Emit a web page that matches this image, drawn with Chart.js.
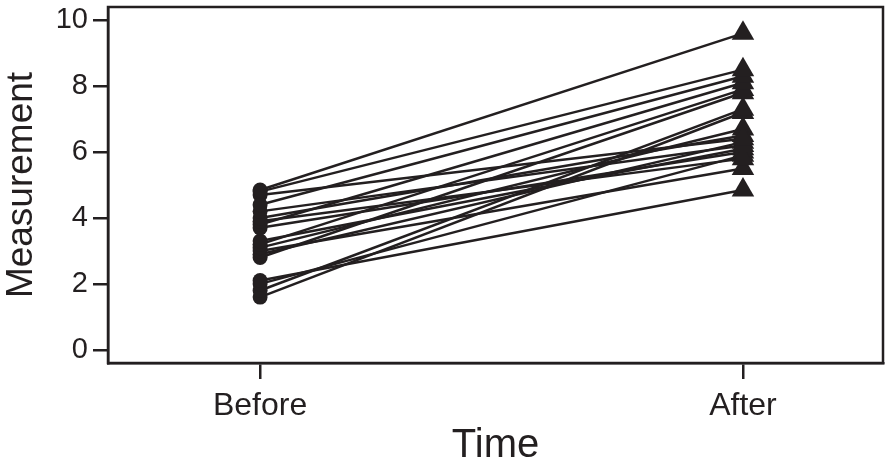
<!DOCTYPE html>
<html>
<head>
<meta charset="utf-8">
<script src="https://cdn.jsdelivr.net/npm/chart.js@4.4.1/dist/chart.umd.min.js"></script>
<style>
  body { margin: 0; background: #fff; }
  #wrap { width: 885px; height: 470px; }
</style>
</head>
<body>
<div id="wrap"><canvas id="myChart"></canvas></div>
<script>
// paired measurements, one subject per line
var timeLabels = ["Before", "After"];
var before = [4.85, 4.8, 4.4, 4.7, 4.2, 4.0, 3.9, 3.8, 3.7, 3.3, 3.2, 3.1, 3.0, 2.9, 2.8, 2.1, 2.0, 1.8, 1.6];
var after  = [9.6, 8.5, 8.3, 6.4, 6.2, 6.5, 5.8, 8.1, 6.0, 6.1, 7.9, 6.7, 5.5, 6.3, 7.8, 4.85, 5.9, 7.3, 7.2];
var yTicks = [0, 2, 4, 6, 8, 10];

var ink = "#231f20";
var fontFam = "Liberation Sans, Arial, sans-serif";

var datasets = [];
for (var i = 0; i < before.length; i++) {
    datasets.push({
        data: [{x: 0, y: before[i]}, {x: 1, y: after[i]}],
        showLine: true,
        borderColor: ink,
        backgroundColor: ink,
        borderWidth: 2.5,
        pointStyle: ["circle", "triangle"],
        pointRadius: [7.5, 13],
        pointBorderWidth: 0,
        pointHoverRadius: [7.5, 13]
    });
}

// box around the plot area
var boxPlugin = {
    id: "box",
    afterDraw: function(chart) {
        var a = chart.chartArea, c = chart.ctx;
        c.save();
        c.strokeStyle = ink;
        c.lineWidth = 2.5;
        c.strokeRect(a.left, a.top, a.right - a.left, a.bottom - a.top);
        c.restore();
    }
};

var ctx = document.getElementById("myChart");
var myChart = new Chart(ctx, {
    type: "scatter",
    data: { datasets: datasets },
    plugins: [boxPlugin],
    options: {
        responsive: true,
        maintainAspectRatio: false,
        animation: false,
        layout: { autoPadding: false, padding: { top: 7, right: 2, left: 0, bottom: 0 } },
        plugins: { legend: { display: false }, tooltip: { enabled: false } },
        scales: {
            x: {
                type: "linear",
                min: -0.315,
                max: 1.29,
                afterBuildTicks: function(axis) {
                    axis.ticks = [{value: 0}, {value: 1}];
                },
                afterFit: function(axis) {
                    axis.height = 107;
                    axis.paddingLeft = 0;
                    axis.paddingRight = 0;
                },
                ticks: {
                    color: ink,
                    font: { family: fontFam, size: 32 },
                    padding: 8,
                    maxRotation: 0,
                    callback: function(v) { return timeLabels[v]; }
                },
                grid: { drawOnChartArea: false, drawTicks: true, tickLength: 16, color: ink, lineWidth: 2.5 },
                border: { display: true, color: ink, width: 2.5 },
                title: {
                    display: true,
                    text: "Time",
                    color: ink,
                    font: { family: fontFam, size: 40 },
                    padding: { top: 0, bottom: 0 }
                }
            },
            y: {
                min: -0.4,
                max: 10.4,
                afterBuildTicks: function(axis) {
                    axis.ticks = yTicks.map(function(v) { return {value: v}; });
                },
                afterFit: function(axis) {
                    axis.width = 108;
                    axis.paddingTop = 0;
                    axis.paddingBottom = 0;
                },
                ticks: {
                    color: ink,
                    font: { family: fontFam, size: 29 },
                    padding: 5
                },
                grid: { drawOnChartArea: false, drawTicks: true, tickLength: 15, color: ink, lineWidth: 2.5 },
                border: { display: true, color: ink, width: 2.5 },
                title: {
                    display: true,
                    text: "Measurement",
                    color: ink,
                    font: { family: fontFam, size: 37 },
                    padding: { top: 0, bottom: 2 }
                }
            }
        }
    }
});
</script>
</body>
</html>
